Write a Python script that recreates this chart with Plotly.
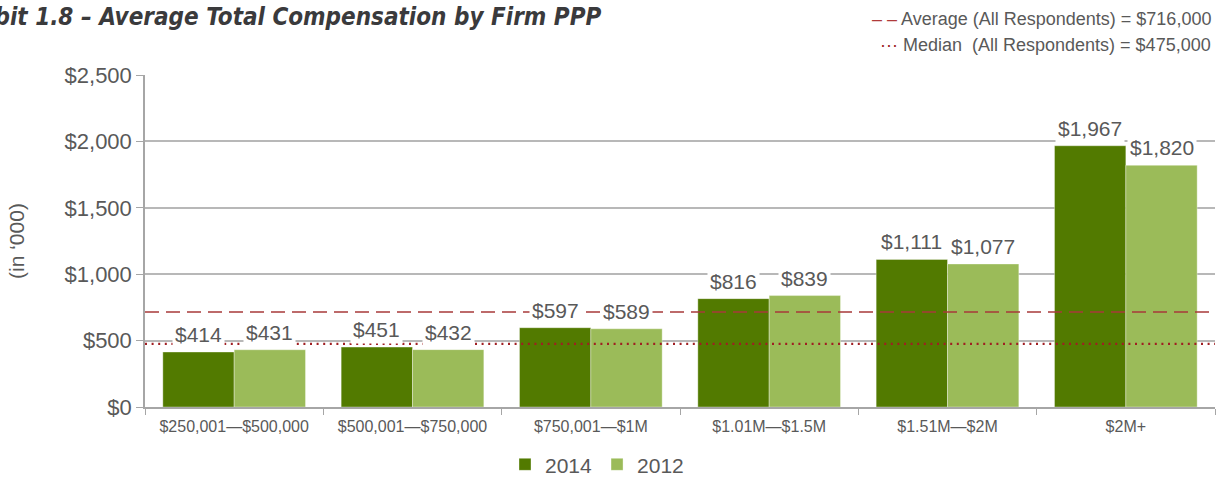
import plotly.graph_objects as go

categories = ["$250,001—$500,000", "$500,001—$750,000", "$750,001—$1M",
              "$1.01M—$1.5M", "$1.51M—$2M", "$2M+"]
values_2014 = [414, 451, 597, 816, 1111, 1967]
values_2012 = [431, 432, 589, 839, 1077, 1820]
average_all = 716
median_all = 475
y_ticks = [0, 500, 1000, 1500, 2000, 2500]
y_tick_labels = ["$0", "$500", "$1,000", "$1,500", "$2,000", "$2,500"]

C2014 = "#527A00"
C2012 = "#9BBB59"
TXT = "#595959"
FONT = "Liberation Sans, Arial, Helvetica, sans-serif"
BARGAP = 0.2
half = (1 - BARGAP) / 4
PLOT_L, PLOT_W = 145, 1070

fig = go.Figure()
fig.add_trace(go.Bar(x=categories, y=values_2014, name="2014",
                     marker=dict(color=C2014, line=dict(color="rgba(255,255,255,0.35)", width=1))))
fig.add_trace(go.Bar(x=categories, y=values_2012, name="2012",
                     marker=dict(color=C2012, line=dict(color="rgba(255,255,255,0.35)", width=1))))

annotations = []
for i, (a, b) in enumerate(zip(values_2014, values_2012)):
    for off, v in ((-half, a), (half, b)):
        annotations.append(dict(x=i + off, y=v, xref="x", yref="y",
                                text=f"${v:,}", showarrow=False, yanchor="bottom",
                                yshift=3, bgcolor="white", borderpad=2,
                                font=dict(size=21, color=TXT, family=FONT)))

annotations.append(dict(x=(603 - PLOT_L) / PLOT_W, y=1, xref="paper", yref="paper",
                        xanchor="right", yanchor="bottom", yshift=42, showarrow=False,
                        text="<b><i>Exhibit 1.8 – Average Total Compensation by Firm PPP</i></b>",
                        font=dict(size=24, color="#3a3a3c",
                                  family="Liberation Sans Narrow, DejaVu Sans Condensed, Roboto, sans-serif")))

annotations.append(dict(x=(16 - PLOT_L) / PLOT_W, y=0.5, xref="paper", yref="paper",
                        xanchor="center", yanchor="middle", textangle=-90, showarrow=False,
                        text="(in ‘000)", font=dict(size=21, color=TXT, family=FONT)))

annotations.append(dict(x=1, y=1, xref="paper", yref="paper", xanchor="right",
                        yanchor="bottom", yshift=44, xshift=-2, showarrow=False, align="right",
                        text=f"<span style='color:#B03A3A'>– –</span> Average (All Respondents) = ${average_all * 1000:,}",
                        font=dict(size=18, color=TXT, family=FONT)))
annotations.append(dict(x=1, y=1, xref="paper", yref="paper", xanchor="right",
                        yanchor="bottom", yshift=18, xshift=-2, showarrow=False, align="right",
                        text=f"<span style='color:#9B1B1E'>···</span> Median  (All Respondents) = ${median_all * 1000:,}",
                        font=dict(size=18, color=TXT, family=FONT)))

shapes = [
    dict(type="line", xref="paper", yref="y", x0=0, x1=1, y0=average_all, y1=average_all,
         line=dict(color="#A83A3A", width=1.5, dash="14px,7px"), layer="above"),
    dict(type="line", xref="paper", yref="y", x0=0, x1=1, y0=median_all, y1=median_all,
         line=dict(color="#A01E22", width=2.2, dash="2px,4.6px"), layer="above"),
]

fig.update_layout(
    width=1221, height=478,
    margin=dict(l=PLOT_L, r=1221 - PLOT_L - PLOT_W, t=75, b=71, autoexpand=False),
    paper_bgcolor="white", plot_bgcolor="white",
    barmode="group", bargap=BARGAP, bargroupgap=0,
    font=dict(family=FONT, color=TXT),
    annotations=annotations, shapes=shapes,
    legend=dict(orientation="h", x=(505 - PLOT_L) / PLOT_W, xanchor="left", y=-0.112, yanchor="top",
                font=dict(size=21, color=TXT), traceorder="normal", itemwidth=30),
    xaxis=dict(showline=True, linecolor="#a6a6a6", linewidth=1.5, automargin=False,
               ticks="outside", tickson="boundaries", ticklen=6, tickcolor="#a6a6a6",
               ticklabelstandoff=4,
               tickfont=dict(size=16, color=TXT), showgrid=False),
    yaxis=dict(range=[0, 2500], tickvals=y_ticks, ticktext=y_tick_labels, automargin=False,
               showline=True, linecolor="#a6a6a6", linewidth=1.5,
               ticks="outside", ticklen=7, tickcolor="#a6a6a6",
               showgrid=True, gridcolor="#b8b8b8", gridwidth=1.5,
               tickfont=dict(size=22, color=TXT), zeroline=False),
)

fig.write_html("out.html", config={"displayModeBar": False},
               post_script="document.body.style.margin='0px';")
